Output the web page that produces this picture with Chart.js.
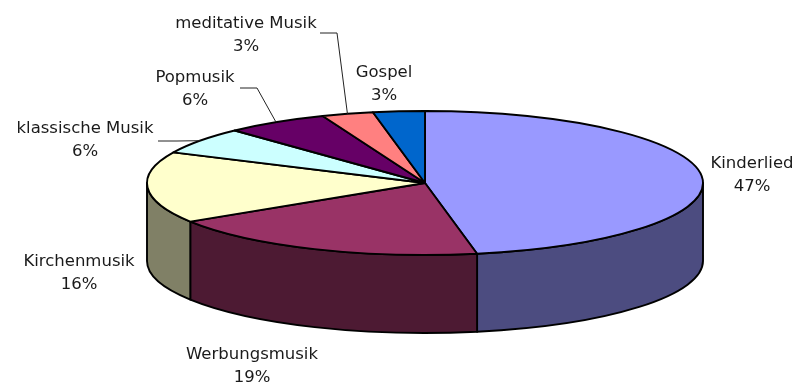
<!DOCTYPE html>
<html>
<head>
<meta charset="utf-8">
<script src="https://cdn.jsdelivr.net/npm/chart.js@4.4.1/dist/chart.umd.min.js"></script>
<style>
  body { margin: 0; background: #fff; }
  #wrap { width: 799px; height: 383px; }
</style>
</head>
<body>
<div id="wrap"><canvas id="musicChart" width="799" height="383"></canvas></div>
<script>
const categories = ["Kinderlied", "Werbungsmusik", "Kirchenmusik", "klassische Musik", "Popmusik", "meditative Musik", "Gospel"];
const shares = [47, 19, 16, 6, 6, 3, 3];

const topColors = ["#9999FF", "#993366", "#FFFFCC", "#CCFFFF", "#660066", "#FF8080", "#0066CC"];
const sideColors = ["#4C4C80", "#4D1A33", "#808066", "#668080", "#330033", "#804040", "#003366"];

// 3D projection of the pie
const RX = 278, RY = 72, DEPTH = 78;

// label anchors (centre of first text line) and leader elbows
const labelSpots = [
  { x: 752, y: 164 },
  { x: 252, y: 355 },
  { x: 79, y: 262 },
  { x: 85, y: 129, leader: [[158, 141], [177, 141]] },
  { x: 195, y: 78, leader: [[240, 88], [257, 88]] },
  { x: 246, y: 24, leader: [[320, 33], [337, 33]] },
  { x: 384, y: 73 }
];

const pie3d = {
  id: 'pie3d',
  afterDatasetsDraw(chart) {
    const arcs = chart.getDatasetMeta(0).data;
    const ctx = chart.ctx;
    const cx = arcs[0].x, cy = arcs[0].y;
    const total = shares.reduce((a, b) => a + b, 0);

    ctx.save();
    ctx.lineWidth = 1.9;
    ctx.strokeStyle = "#000";
    ctx.lineJoin = "round";

    // side walls on the front half (canvas angles 0..PI)
    arcs.forEach((arc, i) => {
      const lo = Math.max(arc.startAngle, 0);
      const hi = Math.min(arc.endAngle, Math.PI);
      if (hi <= lo) return;
      ctx.beginPath();
      ctx.moveTo(cx + RX * Math.cos(lo), cy + RY * Math.sin(lo));
      ctx.ellipse(cx, cy, RX, RY, 0, lo, hi, false);
      ctx.lineTo(cx + RX * Math.cos(hi), cy + DEPTH + RY * Math.sin(hi));
      ctx.ellipse(cx, cy + DEPTH, RX, RY, 0, hi, lo, true);
      ctx.closePath();
      ctx.fillStyle = sideColors[i];
      ctx.fill();
      ctx.stroke();
    });

    // top face
    arcs.forEach((arc, i) => {
      ctx.beginPath();
      ctx.moveTo(cx, cy);
      ctx.ellipse(cx, cy, RX, RY, 0, arc.startAngle, arc.endAngle, false);
      ctx.closePath();
      ctx.fillStyle = topColors[i];
      ctx.fill();
      ctx.stroke();
    });

    // labels
    ctx.font = "16.5px 'DejaVu Sans'";
    ctx.fillStyle = "#1a1a1a";
    ctx.textAlign = "center";
    ctx.textBaseline = "middle";
    ctx.strokeStyle = "#222";
    arcs.forEach((arc, i) => {
      const spot = labelSpots[i];
      ctx.fillText(categories[i], spot.x, spot.y);
      ctx.fillText(Math.round(shares[i] / total * 100) + "%", spot.x, spot.y + 23);
      if (spot.leader) {
        const mid = (arc.startAngle + arc.endAngle) / 2;
        ctx.beginPath();
        ctx.lineWidth = 1;
        ctx.moveTo(spot.leader[0][0], spot.leader[0][1]);
        ctx.lineTo(spot.leader[1][0], spot.leader[1][1]);
        ctx.lineTo(cx + RX * Math.cos(mid), cy + RY * Math.sin(mid));
        ctx.stroke();
      }
    });
    ctx.restore();
  }
};

new Chart(document.getElementById("musicChart"), {
  type: 'pie',
  data: {
    labels: categories,
    datasets: [{
      data: shares,
      backgroundColor: 'rgba(0,0,0,0)',
      borderWidth: 0
    }]
  },
  options: {
    responsive: false,
    animation: false,
    layout: { padding: { left: 250, right: 199, top: 60, bottom: 77 } },
    plugins: {
      legend: { display: false },
      tooltip: { enabled: false }
    }
  },
  plugins: [pie3d]
});
</script>
</body>
</html>
